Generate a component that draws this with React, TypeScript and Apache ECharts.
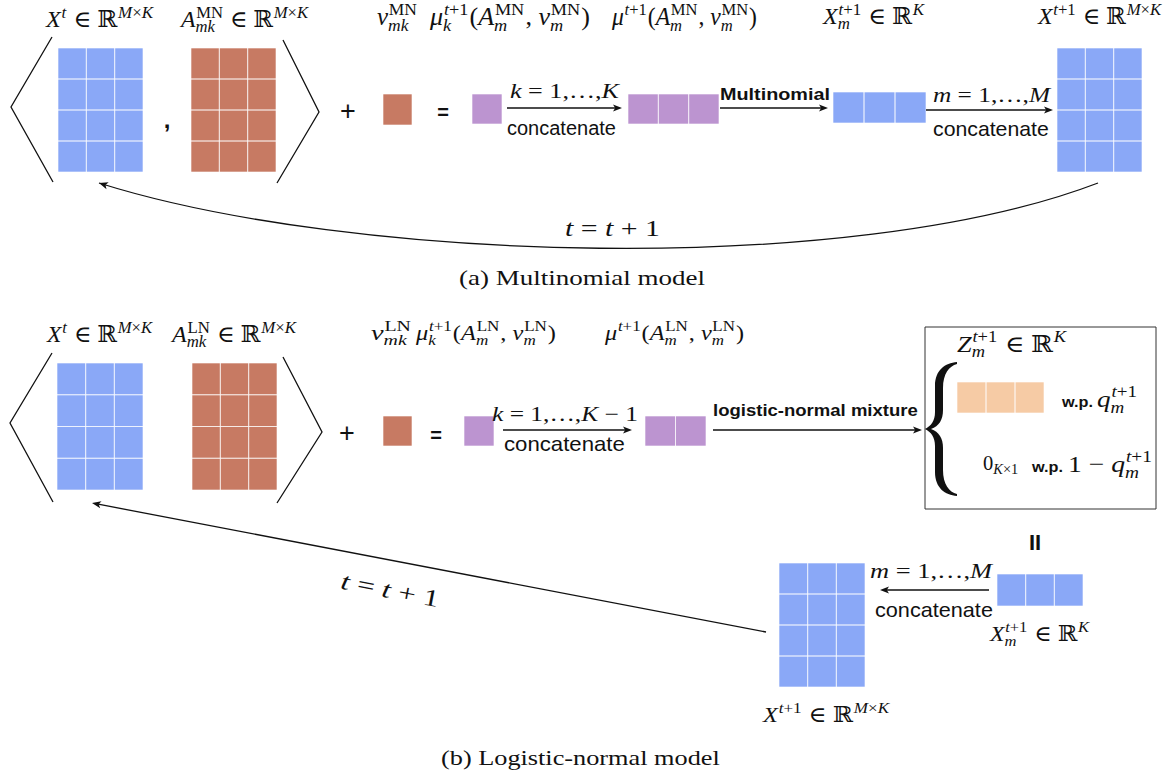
import React, { useEffect, useRef } from "react";
import * as echarts from "echarts";

// ---------- data ----------
const M_ROWS = 4;
const K_COLS = 3;

const HEAD_A = [
  "X^{t} ∈ ℝ^{M×K}",
  "A_{mk}^{`MN`} ∈ ℝ^{M×K}",
  "ν_{mk}^{`MN`}",
  "μ_{k}^{t+1}(A_{m}^{`MN`}, ν_{m}^{`MN`})",
  "μ^{t+1}(A_{m}^{`MN`}, ν_{m}^{`MN`})",
  "X_{m}^{t+1} ∈ ℝ^{K}",
  "X^{t+1} ∈ ℝ^{M×K}",
];
const HEAD_B = [
  "X^{t} ∈ ℝ^{M×K}",
  "A_{mk}^{`LN`} ∈ ℝ^{M×K}",
  "ν_{mk}^{`LN`}",
  "μ_{k}^{t+1}(A_{m}^{`LN`}, ν_{m}^{`LN`})",
  "μ^{t+1}(A_{m}^{`LN`}, ν_{m}^{`LN`})",
];
const STEP_LABELS = ["k = 1,…,K", "m = 1,…,M", "k = 1,…,K − 1"];
const OP_LABELS = ["concatenate", "Multinomial", "logistic-normal mixture"];
const MIX_LABELS = ["Z_{m}^{t+1} ∈ ℝ^{K}", "q_{m}^{t+1}", "0_{K×1}", "1 − q_{m}^{t+1}"];
const WP = "w.p.";
const OUT_LABELS = ["X_{m}^{t+1} ∈ ℝ^{K}", "X^{t+1} ∈ ℝ^{M×K}"];
const UPDATE = "t = t + 1";
const CAPTIONS = ["(a) Multinomial model", "(b) Logistic-normal model"];

// ---------- styles ----------
const BLUE = "#8aa8f7";
const BROWN = "#c77a63";
const PURPLE = "#bc94d0";
const PEACH = "#f6cba5";
const INK = "#111111";
const SERIF = "'Liberation Serif','DejaVu Serif',serif";
const SANS = "'Liberation Sans','DejaVu Sans',Arial,sans-serif";

echarts.graphic.registerShape(
  "brace",
  echarts.graphic.extendPath(
    "M 32 0 C 20 1 10 8 10 24 L 10 50 C 10 59 6 64 0 67 C 6 70 10 75 10 84 L 10 110 C 10 126 20 133 32 134 L 32 132 C 24 130 18 122 18 108 L 18 86 C 18 76 14 70 6 67 C 14 64 18 58 18 48 L 18 26 C 18 12 24 4 32 2 Z",
    {}
  ) as any
);

// ---------- text measuring ----------
const ctx2d = document.createElement("canvas").getContext("2d")!;
function tw(t: string, f: string) {
  ctx2d.font = f;
  return ctx2d.measureText(t).width;
}
const mf = (s: number, it: boolean) => `${it ? "italic " : ""}${s.toFixed(2)}px ${SERIF}`;
const sf = (s: number, bold: boolean) => `${bold ? "bold " : ""}${s.toFixed(2)}px ${SANS}`;

type Seg = { t: string; it: boolean };
type Atom = { base: Seg[]; sup?: Seg[]; sub?: Seg[] };
const isLetter = (c: string) => /[A-Za-zα-ωΑ-Ω]/.test(c);

function segs(s: string): Seg[] {
  const out: Seg[] = [];
  let roman = false;
  for (const c of s) {
    if (c === "`") { roman = !roman; continue; }
    const it = !roman && isLetter(c);
    const last = out[out.length - 1];
    if (last && last.it === it) last.t += c;
    else out.push({ t: c, it });
  }
  return out;
}
function group(s: string, i: number): [string, number] {
  if (s[i] === "{") {
    let d = 1, j = i + 1;
    while (d > 0 && j < s.length) {
      if (s[j] === "{") d++;
      else if (s[j] === "}") d--;
      j++;
    }
    return [s.slice(i + 1, j - 1), j];
  }
  return [s[i], i + 1];
}
function parseMath(s: string): Atom[] {
  const atoms: Atom[] = [];
  let i = 0, roman = false;
  while (i < s.length) {
    const c = s[i];
    if (c === "^" || c === "_") {
      const [g, j] = group(s, i + 1);
      const a = atoms[atoms.length - 1];
      if (c === "^") a.sup = segs(g); else a.sub = segs(g);
      i = j;
      continue;
    }
    if (c === "`") { roman = !roman; i++; continue; }
    const it = !roman && isLetter(c);
    const last = atoms[atoms.length - 1];
    if (last && !last.sup && !last.sub) {
      const ls = last.base[last.base.length - 1];
      if (ls.it === it) ls.t += c; else last.base.push({ t: c, it });
    } else atoms.push({ base: [{ t: c, it }] });
    i++;
  }
  return atoms;
}
type Item = { t: string; x: number; b: number; size: number; it: boolean };
function layoutMath(s: string, S: number) {
  const items: Item[] = [];
  let x = 0;
  for (const a of parseMath(s)) {
    for (const g of a.base) {
      items.push({ t: g.t, x, b: 0, size: S, it: g.it });
      x += tw(g.t, mf(S, g.it));
    }
    if (a.sup || a.sub) {
      const s2 = S * 0.7;
      let wsup = 0, wsub = 0;
      if (a.sup) {
        let xx = x + 0.03 * S;
        for (const g of a.sup) {
          items.push({ t: g.t, x: xx, b: -0.4 * S, size: s2, it: g.it });
          xx += tw(g.t, mf(s2, g.it));
        }
        wsup = xx - x;
      }
      if (a.sub) {
        let xx = x;
        for (const g of a.sub) {
          items.push({ t: g.t, x: xx, b: (a.sup ? 0.24 : 0.18) * S, size: s2, it: g.it });
          xx += tw(g.t, mf(s2, g.it));
        }
        wsub = xx - x;
      }
      x += Math.max(wsup, wsub) + 0.04 * S;
    }
  }
  return { items, width: x };
}
const clamp = (v: number, a: number, b: number) => Math.max(a, Math.min(b, v));
// S: font size (from glyph height); width range sets a mild horizontal stretch
function mathEls(s: string, x0: number, x1: number | null, baseline: number, S: number, center = false) {
  const { items, width } = layoutMath(s, S);
  const k = x1 == null ? 1 : clamp((x1 - x0) / width, 0.8, 1.3);
  const ox = center ? -(width * k) / 2 : x0;
  return items.map((it) => ({
    type: "text",
    x: ox + it.x * k,
    y: baseline + it.b - 0.34 * it.size,
    scaleX: k,
    silent: true,
    style: {
      text: it.t,
      font: mf(it.size, it.it),
      fill: INK,
      textAlign: "left",
      align: "left",
      textVerticalAlign: "middle",
      verticalAlign: "middle",
    },
  }));
}
function textEl(t: string, x0: number, x1: number | null, baseline: number, font: (s: number) => string, S: number) {
  const w = tw(t, font(S));
  const k = x1 == null ? 1 : clamp((x1 - x0) / w, 0.85, 1.35);
  return {
    type: "text",
    x: x0,
    y: baseline - 0.345 * S,
    scaleX: k,
    silent: true,
    style: { text: t, font: font(S), fill: INK, textAlign: "left", align: "left", textVerticalAlign: "middle", verticalAlign: "middle" },
  };
}
const sansEl = (t: string, x0: number, x1: number | null, baseline: number, S: number, bold = false) =>
  textEl(t, x0, x1, baseline, (s) => sf(s, bold), S);
const serifEl = (t: string, x0: number, x1: number | null, baseline: number, S: number) =>
  textEl(t, x0, x1, baseline, (s) => mf(s, false), S);
function symEl(t: string, cx: number, cy: number, size: number, bold = false) {
  return {
    type: "text",
    x: cx,
    y: cy,
    silent: true,
    style: { text: t, font: sf(size, bold), fill: INK, textAlign: "center", align: "center", textVerticalAlign: "middle", verticalAlign: "middle" },
  };
}

// ---------- shapes ----------
function grid(x: number, y: number, w: number, h: number, rows: number, cols: number, color: string) {
  const els: any[] = [{ type: "rect", shape: { x, y, width: w, height: h }, style: { fill: color } }];
  const cw = w / cols, ch = h / rows;
  for (let r = 0; r < rows; r++)
    for (let c = 0; c < cols; c++)
      els.push({
        type: "rect",
        shape: { x: x + c * cw, y: y + r * ch, width: cw, height: ch },
        style: { fill: "none", stroke: "rgba(255,255,255,0.6)", lineWidth: 1 },
      });
  return els;
}
function head(x2: number, y2: number, ux: number, uy: number) {
  const hl = 9, hw = 3.6;
  const bx = x2 - ux * hl, by = y2 - uy * hl;
  return {
    type: "polygon",
    shape: {
      points: [
        [x2, y2],
        [bx - uy * hw, by + ux * hw],
        [bx + ux * 2.2, by + uy * 2.2],
        [bx + uy * hw, by - ux * hw],
      ],
    },
    style: { fill: INK },
  };
}
function arrow(x1: number, y1: number, x2: number, y2: number, lw = 1.3) {
  const dx = x2 - x1, dy = y2 - y1, L = Math.hypot(dx, dy);
  const ux = dx / L, uy = dy / L;
  return [
    { type: "line", shape: { x1, y1, x2: x2 - ux * 5, y2: y2 - uy * 5 }, style: { stroke: INK, lineWidth: lw } },
    head(x2, y2, ux, uy),
  ];
}
function poly(points: number[][], lw = 1.3) {
  return { type: "polyline", shape: { points }, style: { stroke: INK, fill: "none", lineWidth: lw } };
}

function buildElements() {
  const els: any[] = [];
  const add = (...a: any[]) => a.forEach((e) => (Array.isArray(e) ? els.push(...e) : els.push(e)));

  // ===== (a) Multinomial =====
  const hA: [number, number, number, number][] = [
    [46, 154, 27, 23], [181, 309, 27, 23], [377, 418, 25, 25], [430, 590, 25, 25], [612, 757, 25, 25],
    [823, 925, 24, 23], [1038, 1162, 24, 23],
  ];
  HEAD_A.forEach((s, i) => add(mathEls(s, hA[i][0], hA[i][1], hA[i][2], hA[i][3])));

  add(poly([[52, 37], [11, 107], [53, 182]]));
  add(poly([[283, 40], [319, 112], [277, 183]]));
  add(grid(58, 48, 85, 124, M_ROWS, K_COLS, BLUE));
  add(symEl(",", 167, 119, 24, true));
  add(grid(191, 48, 85, 124, M_ROWS, K_COLS, BROWN));
  add(symEl("+", 348, 111, 27));
  add(grid(383, 94, 29, 31, 1, 1, BROWN));
  add(symEl("=", 443, 112, 20, true));
  add(grid(472, 94, 30, 30, 1, 1, PURPLE));
  add(arrow(507, 108, 622, 108));
  add(mathEls(STEP_LABELS[0], 510, 619, 98, 21));
  add(sansEl(OP_LABELS[0], 507, 616, 135, 20));
  add(grid(628, 94, 91, 30, 1, K_COLS, PURPLE));
  add(sansEl(OP_LABELS[1], 720, 830, 100, 17, true));
  add(arrow(720, 108, 828, 108));
  add(grid(833, 92, 93, 31, 1, K_COLS, BLUE));
  add(arrow(926, 110, 1053, 110));
  add(mathEls(STEP_LABELS[1], 933, 1050, 102, 21));
  add(sansEl(OP_LABELS[0], 933, 1049, 136, 20));
  add(grid(1057, 48, 85, 124, M_ROWS, K_COLS, BLUE));

  // curved feedback arrow
  const P0 = [1098, 183], P1 = [850, 278], P2 = [350, 262], P3 = [99, 183];
  add({
    type: "bezierCurve",
    shape: { x1: P0[0], y1: P0[1], cpx1: P1[0], cpy1: P1[1], cpx2: P2[0], cpy2: P2[1], x2: P3[0], y2: P3[1] },
    style: { stroke: INK, fill: "none", lineWidth: 1.3 },
  });
  {
    const dx = P3[0] - P2[0], dy = P3[1] - P2[1], L = Math.hypot(dx, dy);
    add(head(P3[0], P3[1], dx / L, dy / L));
  }
  add(mathEls(UPDATE, 565, 660, 236, 24));
  add(serifEl(CAPTIONS[0], 459, 705, 285, 21));

  // ===== (b) Logistic-normal =====
  const hB: [number, number, number, number][] = [
    [47, 153, 342, 23], [172, 297, 342, 23], [371, 412, 340, 22], [416, 556, 340, 22], [605, 744, 340, 22],
  ];
  HEAD_B.forEach((s, i) => add(mathEls(s, hB[i][0], hB[i][1], hB[i][2], hB[i][3])));

  add(poly([[52, 353], [10, 423], [53, 502]]));
  add(poly([[283, 357], [322, 432], [277, 503]]));
  add(grid(57, 363, 86, 127, M_ROWS, K_COLS, BLUE));
  add(grid(192, 363, 85, 127, M_ROWS, K_COLS, BROWN));
  add(symEl("+", 347, 433, 27));
  add(grid(383, 416, 29, 30, 1, 1, BROWN));
  add(symEl("=", 436, 435, 20, true));
  add(grid(464, 416, 30, 30, 1, 1, PURPLE));
  add(arrow(503, 430, 632, 430));
  add(mathEls(STEP_LABELS[2], 492, 638, 421, 21));
  add(sansEl(OP_LABELS[0], 504, 625, 451, 20));
  add(grid(645, 416, 61, 30, 1, K_COLS - 1, PURPLE));
  add(sansEl(OP_LABELS[2], 713, 918, 416, 16, true));
  add(arrow(713, 430, 922, 430));

  add({ type: "rect", shape: { x: 925, y: 327, width: 231, height: 182 }, style: { fill: "none", stroke: "#333", lineWidth: 1 } });
  add({ type: "brace", x: 925, y: 362, style: { fill: INK } });
  add(mathEls(MIX_LABELS[0], 957, 1067, 352, 23));
  add(grid(957, 382, 87, 31, 1, K_COLS, PEACH));
  add(sansEl(WP, 1062, 1093, 407, 15, true));
  add(mathEls(MIX_LABELS[1], 1097, 1138, 407, 24));
  add(mathEls(MIX_LABELS[2], 983, 1019, 470, 21));
  add(sansEl(WP, 1032, 1063, 472, 15, true));
  add(mathEls(MIX_LABELS[3], 1068, 1153, 472, 24));

  add(symEl("II", 1035, 542, 22, true));
  add(grid(997, 574, 86, 32, 1, K_COLS, BLUE));
  add(arrow(989, 590, 880, 590));
  add(mathEls(STEP_LABELS[1], 870, 992, 578, 21));
  add(sansEl(OP_LABELS[0], 875, 993, 617, 20));
  add(mathEls(OUT_LABELS[0], 990, 1090, 641, 22));
  add(grid(779, 563, 86, 124, M_ROWS, K_COLS, BLUE));
  add(mathEls(OUT_LABELS[1], 763, 890, 722, 22));

  add(arrow(766, 632, 92, 503));
  add({
    type: "group",
    x: 390,
    y: 590,
    rotation: -0.19,
    children: mathEls(UPDATE, -50, 50, 8, 24, true),
  });
  add(serifEl(CAPTIONS[1], 441, 720, 765, 21));

  return els;
}

export default function App() {
  const ref = useRef<HTMLDivElement>(null);
  useEffect(() => {
    const chart = echarts.init(ref.current!, null, { renderer: "svg" });
    chart.setOption({
      animation: false,
      backgroundColor: "#ffffff",
      graphic: { elements: buildElements() },
    });
    return () => chart.dispose();
  }, []);
  return <div ref={ref} style={{ position: "fixed", left: 0, top: 0, width: 1174, height: 778 }} />;
}
